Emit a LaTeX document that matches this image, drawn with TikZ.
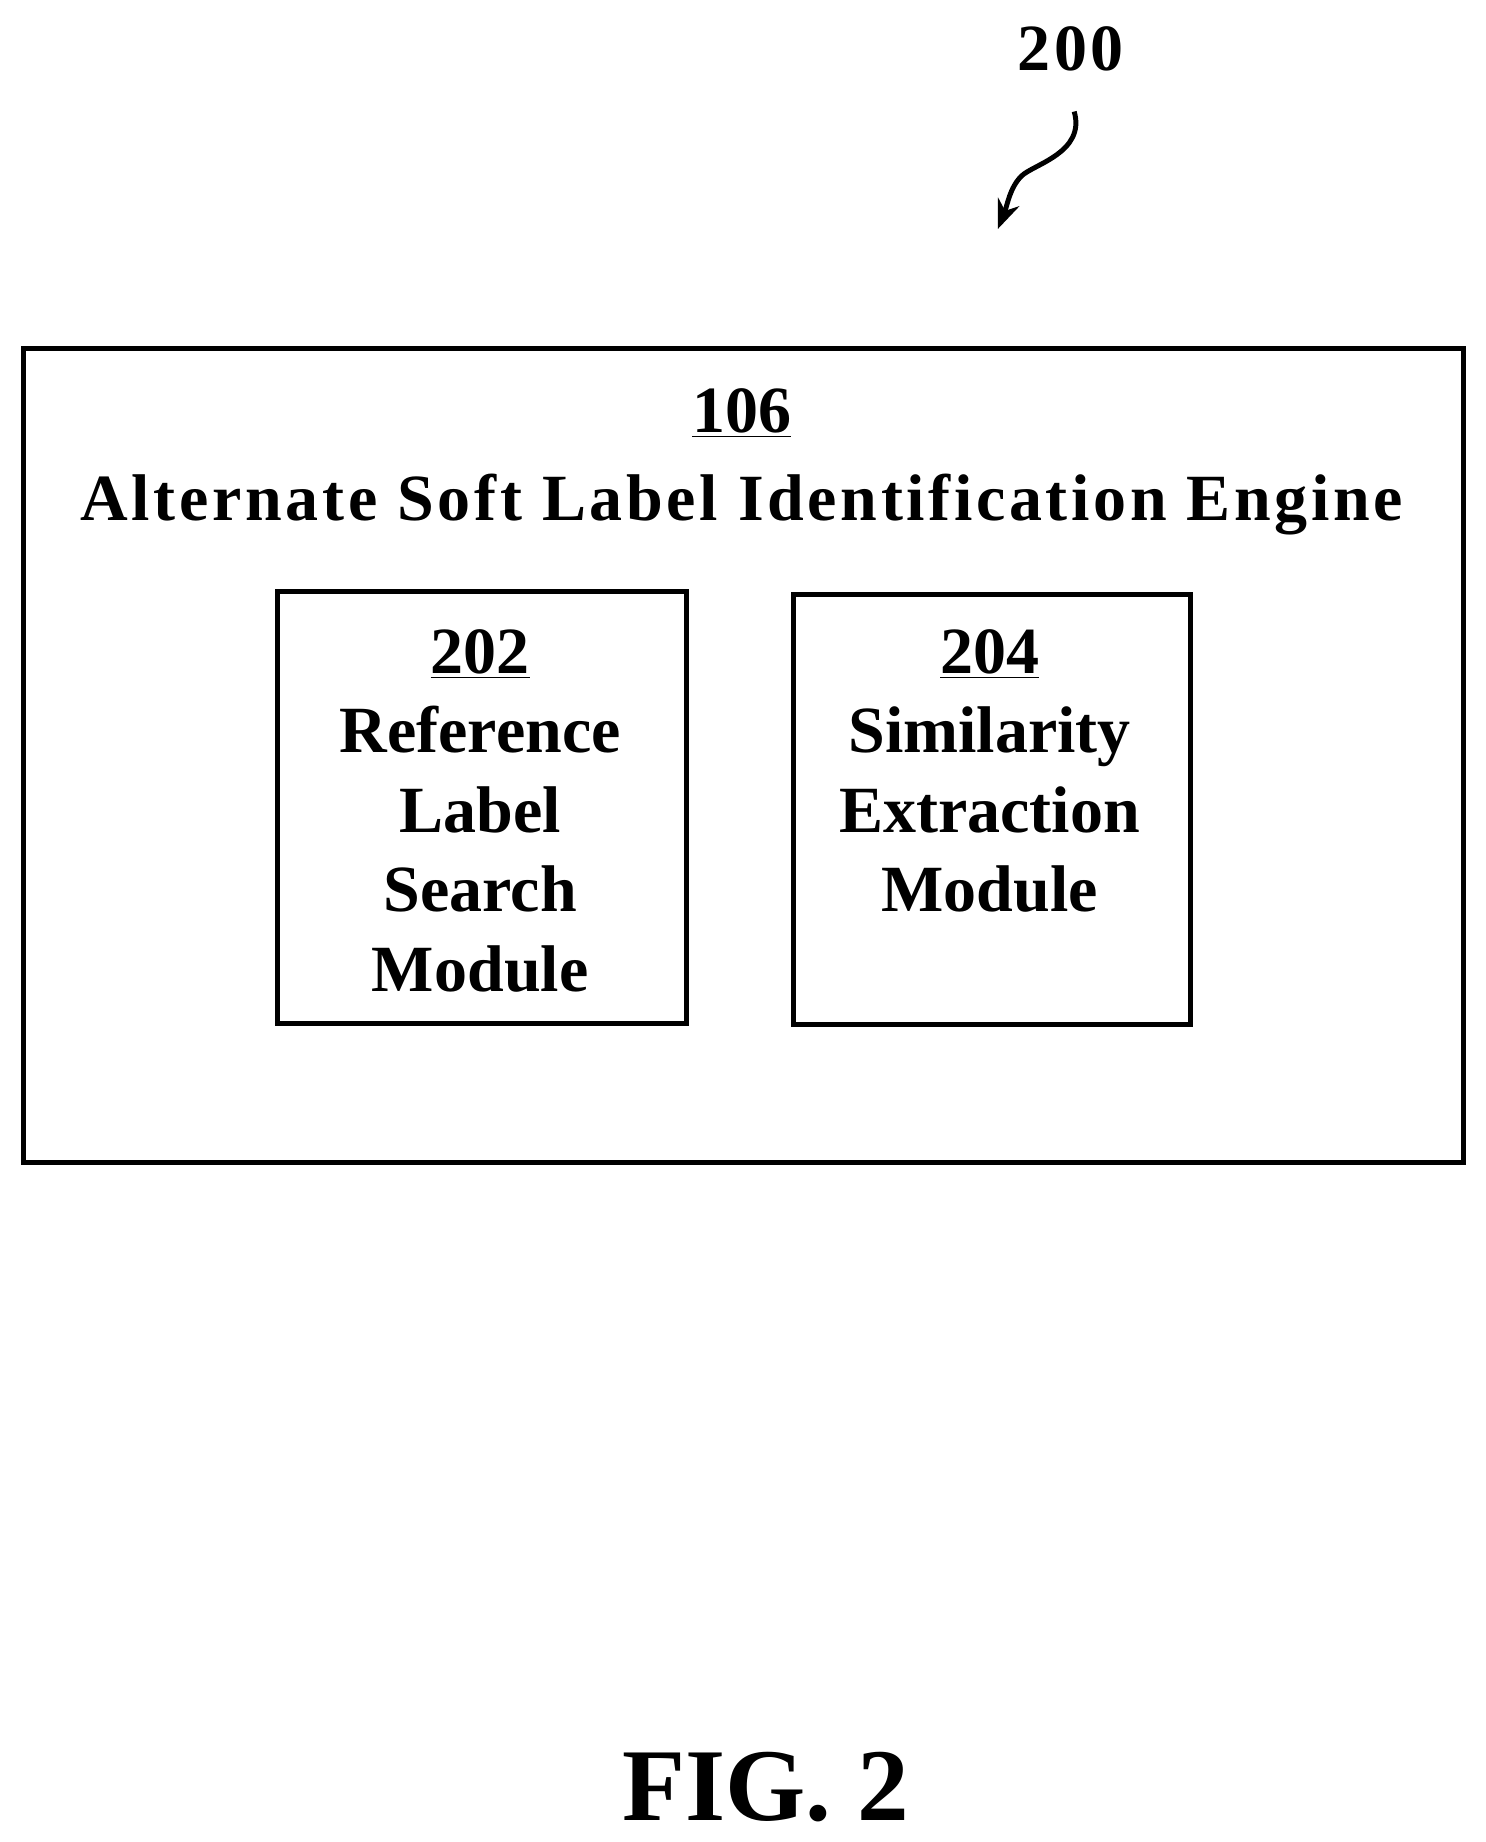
\documentclass[tikz,border=0pt]{standalone}
\usepackage{fontspec}
\setmainfont{Liberation Serif}
\usetikzlibrary{arrows.meta}
\begin{document}
\begin{tikzpicture}[x=0.02cm,y=-0.02cm,
  box/.style={draw,line width=2.4pt},
  txt/.style={font=\fontsize{32}{38}\selectfont\bfseries,align=center,inner sep=0pt}]
\useasboundingbox (0,0) rectangle (1265,1569);
\node[box,minimum width=24.54cm,minimum height=13.86cm,anchor=north west] (outer) at (18,295) {};
\node[box,minimum width=6.98cm,minimum height=7.36cm,anchor=north west] (b202) at (234,502) {};
\node[box,minimum width=6.76cm,minimum height=7.34cm,anchor=north west] (b204) at (674,504) {};
\node[txt] (t106) at (632,352) {\underline{106}};
\node[txt,font=\fontsize{32}{38}\selectfont\bfseries\addfontfeatures{LetterSpace=5.5}] (title) at (632,430) {Alternate Soft Label Identification Engine};
\node[txt,anchor=north,font=\fontsize{32}{38.5}\selectfont\bfseries] (t202) at (409,536) {\underline{202}\\Reference\\Label\\Search\\Module};
\node[txt,anchor=north,font=\fontsize{32}{38.5}\selectfont\bfseries] (t204) at (843,536) {\underline{204}\\Similarity\\Extraction\\Module};
\node[txt,font=\fontsize{32}{38}\selectfont\bfseries\addfontfeatures{LetterSpace=5}] (n200) at (912,42) {200};
\coordinate (a0) at (915,95);
\coordinate (a1) at (850,195);
\draw[line width=2.4pt,-{Stealth[length=14pt,width=11pt]}] (a0) .. controls (925,130) and (880,140) .. (870,150) .. controls (860,160) and (858,175) .. (a1);
\node[txt,font=\fontsize{50}{60}\selectfont\bfseries] (fig) at (652,1522) {FIG. 2};
\end{tikzpicture}
\end{document}
